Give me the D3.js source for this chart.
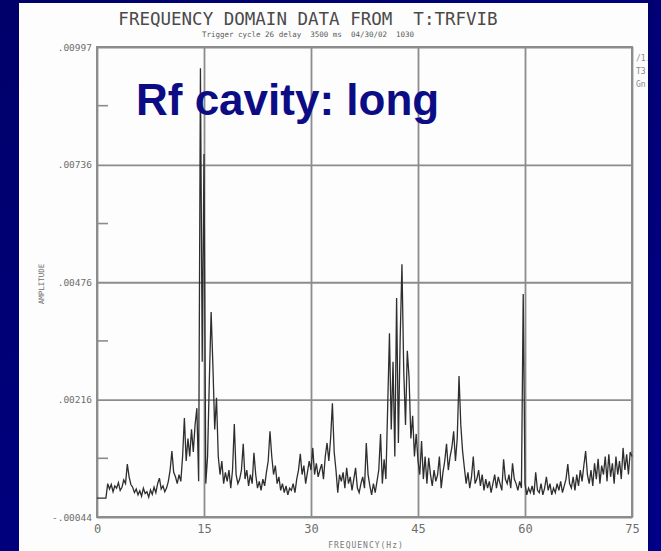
<!DOCTYPE html>
<html lang="en">
    <head>
        <meta charset="UTF-8" />
        <title>Frequency domain data - Rf cavity: long</title>
        <style>
            html, body {
                margin: 0;
                padding: 0;
                background: #000080;
            }

            .tick text {
                font-family: 'DejaVu Sans Mono', monospace;
                fill: #6e6e6e;
            }

            .grid line {
                stroke: #8c8c8c;
                stroke-width: 1.8px;
            }

            .trace {
                fill: none;
                stroke: #2e2e2e;
                stroke-width: 1.3px;
                stroke-linejoin: miter;
            }
        </style>
    </head>

    <body>
        <svg width="661" height="551"></svg>
        <script src="https://d3js.org/d3.v7.min.js"></script>
        <script>
            // spectrum amplitude (units of 1e-3), one sample every 0.25 Hz from 0 to 75 Hz
            const freqStep = 0.25;
            const amplitude = [
                -0.02, -0.02, -0.02, -0.02, -0.02, -0.02, 0.30, 0.18, 0.28, 0.12, 0.25, 0.20, 0.32, 0.15, 0.22, 0.38, 0.30, 0.73, 0.45, 0.28,
                0.22, 0.10, 0.18, 0.05, 0.14, 0.02, 0.20, 0.08, 0.12, 0.00, 0.16, 0.06, 0.22, 0.10, 0.30, 0.42, 0.18, 0.25, 0.12, 0.20,
                0.35, 0.60, 1.02, 0.55, 0.45, 0.30, 0.50, 0.35, 0.90, 1.75, 0.80, 1.30, 0.90, 1.50, 1.00, 1.60, 1.97, 0.35, 9.50, 3.00,
                7.60, 0.30, 0.90, 2.60, 4.10, 2.90, 1.50, 2.20, 0.90, 0.50, 0.80, 0.30, 0.55, 0.35, 0.60, 0.20, 0.60, 1.62, 0.50, 0.30,
                0.40, 0.60, 1.18, 0.40, 0.60, 0.25, 0.50, 0.30, 0.98, 0.50, 0.20, 0.35, 0.15, 0.40, 0.25, 0.55, 0.80, 1.46, 0.90, 0.50,
                0.70, 0.30, 0.45, 0.15, 0.30, 0.10, 0.25, 0.05, 0.20, 0.15, 0.30, 0.10, 0.40, 0.60, 0.96, 0.50, 0.70, 0.30, 0.55, 0.80,
                0.60, 1.09, 0.50, 0.75, 0.45, 0.60, 0.73, 0.40, 0.90, 1.20, 0.80, 1.30, 2.08, 1.00, 0.60, 0.10, 0.50, 0.35, 0.55, 0.20,
                0.65, 0.30, 0.45, 0.15, 0.40, 0.65, 0.20, 0.10, 0.30, 0.45, 0.20, 1.20, 0.50, 0.25, 0.05, 0.30, 0.10, 0.35, 0.60, 1.40,
                0.30, 0.84, 0.40, 2.00, 3.63, 1.50, 3.00, 0.90, 4.41, 1.20, 3.50, 5.16, 2.80, 1.60, 3.24, 2.64, 1.30, 1.80, 0.90, 1.40,
                0.80, 0.50, 1.24, 0.40, 0.90, 0.30, 0.87, 0.50, 0.25, 0.60, 0.35, 0.50, 0.90, 0.20, 0.55, 0.80, 1.18, 0.60, 0.90, 1.10,
                1.46, 0.80, 1.30, 2.68, 1.60, 1.02, 0.65, 0.30, 0.55, 0.20, 0.45, 0.90, 0.30, 0.40, 0.60, 0.25, 0.50, 0.15, 0.40, 0.20,
                0.35, 0.10, 0.30, 0.50, 0.20, 0.45, 0.30, 0.15, 0.84, 0.40, 0.30, 0.50, 0.20, 0.75, 0.40, 0.30, 0.15, 0.35, 0.20, 4.50,
                0.30, 0.05, 0.20, 0.10, 0.25, 0.05, 0.55, 0.15, 0.10, 0.30, 0.05, 0.20, 0.45, 0.15, 0.30, 0.05, 0.20, 0.10, 0.30, 0.15,
                0.35, 0.10, 0.25, 0.40, 0.73, 0.30, 0.20, 0.45, 0.15, 0.50, 0.25, 0.60, 0.35, 0.70, 1.02, 0.50, 0.30, 0.60, 0.25, 0.75,
                0.40, 0.85, 0.30, 0.70, 0.50, 0.90, 0.35, 0.95, 0.45, 0.75, 0.30, 0.90, 0.50, 0.80, 0.40, 1.09, 0.60, 0.95, 0.50, 1.00,
                0.90
            ];

            const yTicks = [-0.44, 2.16, 4.76, 7.36, 9.97];
            const yTickLabels = ['-.00044', '.00216', '.00476', '.00736', '.00997'];
            const yMinorTicks = [0.86, 3.46, 6.06, 8.67];
            const xTicks = [0, 15, 30, 45, 60, 75];

            const titleText = 'FREQUENCY DOMAIN DATA FROM  T:TRFVIB';
            const subtitleText = 'Trigger cycle 26 delay  3500 ms  04/30/02  1030';
            const sideNotes = ['/1.6', 'T3', 'Gn'];

            const width = 661,
                height = 551;
            const plot = { left: 97, right: 632, top: 47, bottom: 517 };

            const svg = d3.select('svg');

            // slide background
            const grad = svg
                .append('defs')
                .append('linearGradient')
                .attr('id', 'bg')
                .attr('x1', 0)
                .attr('y1', 0)
                .attr('x2', 1)
                .attr('y2', 1);
            grad.append('stop').attr('offset', 0).attr('stop-color', '#00006a');
            grad.append('stop').attr('offset', 1).attr('stop-color', '#000090');
            svg.append('rect').attr('width', width).attr('height', height).attr('fill', 'url(#bg)');
            svg.append('rect').attr('x', 19).attr('y', 3).attr('width', 629).attr('height', 548).attr('fill', '#fdfdfd');

            const x = d3.scaleLinear().domain([0, 75]).range([plot.left, plot.right]);
            const y = d3.scaleLinear().domain([-0.44, 9.97]).range([plot.bottom, plot.top]);

            // grid + y labels
            const yAxis = svg
                .append('g')
                .attr('class', 'grid')
                .attr('transform', `translate(${plot.left},0)`)
                .call(
                    d3
                        .axisLeft(y)
                        .tickValues(yTicks)
                        .tickFormat((d, i) => yTickLabels[i])
                        .tickSize(-(plot.right - plot.left))
                        .tickPadding(5)
                );
            yAxis.select('.domain').remove();
            yAxis.selectAll('text').style('font-size', '9.5px');

            // minor ticks on the left edge
            svg.append('g')
                .selectAll('line')
                .data(yMinorTicks)
                .join('line')
                .attr('x1', plot.left)
                .attr('x2', plot.left + 11)
                .attr('y1', (d) => y(d))
                .attr('y2', (d) => y(d))
                .attr('stroke', '#8c8c8c')
                .attr('stroke-width', 1.6);

            const xAxis = svg
                .append('g')
                .attr('class', 'grid')
                .attr('transform', `translate(0,${plot.bottom})`)
                .call(
                    d3
                        .axisBottom(x)
                        .tickValues(xTicks)
                        .tickFormat(d3.format('d'))
                        .tickSize(-(plot.bottom - plot.top))
                        .tickPadding(7)
                );
            xAxis.select('.domain').remove();
            xAxis.selectAll('text').style('font-size', '12px');

            // frame
            svg.append('rect')
                .attr('x', plot.left)
                .attr('y', plot.top)
                .attr('width', plot.right - plot.left)
                .attr('height', plot.bottom - plot.top)
                .attr('fill', 'none')
                .attr('stroke', '#8c8c8c')
                .attr('stroke-width', 2);

            // spectrum trace
            const line = d3
                .line()
                .x((d, i) => x(i * freqStep))
                .y((d) => y(d));
            svg.append('path').datum(amplitude).attr('class', 'trace').attr('d', line);

            // titles and axis names
            svg.append('text')
                .attr('x', 308)
                .attr('y', 25)
                .attr('text-anchor', 'middle')
                .style('font-family', "'DejaVu Sans Mono', monospace")
                .style('font-size', '17.5px')
                .style('white-space', 'pre')
                .attr('fill', '#4a4a4a')
                .text(titleText);

            svg.append('text')
                .attr('x', 308)
                .attr('y', 37)
                .attr('text-anchor', 'middle')
                .style('font-family', "'DejaVu Sans Mono', monospace")
                .style('font-size', '7.5px')
                .style('white-space', 'pre')
                .attr('fill', '#5a5a5a')
                .text(subtitleText);

            svg.append('text')
                .attr('transform', 'translate(44,284) rotate(-90)')
                .attr('text-anchor', 'middle')
                .style('font-family', "'DejaVu Sans Mono', monospace")
                .style('font-size', '7.5px')
                .attr('fill', '#6e6e6e')
                .text('AMPLITUDE');

            svg.append('text')
                .attr('x', 366)
                .attr('y', 548)
                .attr('text-anchor', 'middle')
                .style('font-family', "'DejaVu Sans Mono', monospace")
                .style('font-size', '8px')
                .style('letter-spacing', '1px')
                .attr('fill', '#7a7a7a')
                .text('FREQUENCY(Hz)');

            svg.append('g')
                .selectAll('text')
                .data(sideNotes)
                .join('text')
                .attr('x', 636)
                .attr('y', (d, i) => 61 + i * 13)
                .style('font-family', "'DejaVu Sans Mono', monospace")
                .style('font-size', '8px')
                .attr('fill', '#8a8a8a')
                .text((d) => d);

            // slide heading over the chart
            svg.append('text')
                .attr('x', 136)
                .attr('y', 115)
                .style('font-family', "'Liberation Sans', Arial, sans-serif")
                .style('font-weight', 'bold')
                .style('font-size', '44px')
                .attr('fill', '#0c0c84')
                .text('Rf cavity: long');

            // re-cover the right slide margin so the side notes are cut like the original
            svg.append('rect').attr('x', 648).attr('y', 0).attr('width', 13).attr('height', height).attr('fill', 'url(#bg)');
        </script>
    </body>
</html>
